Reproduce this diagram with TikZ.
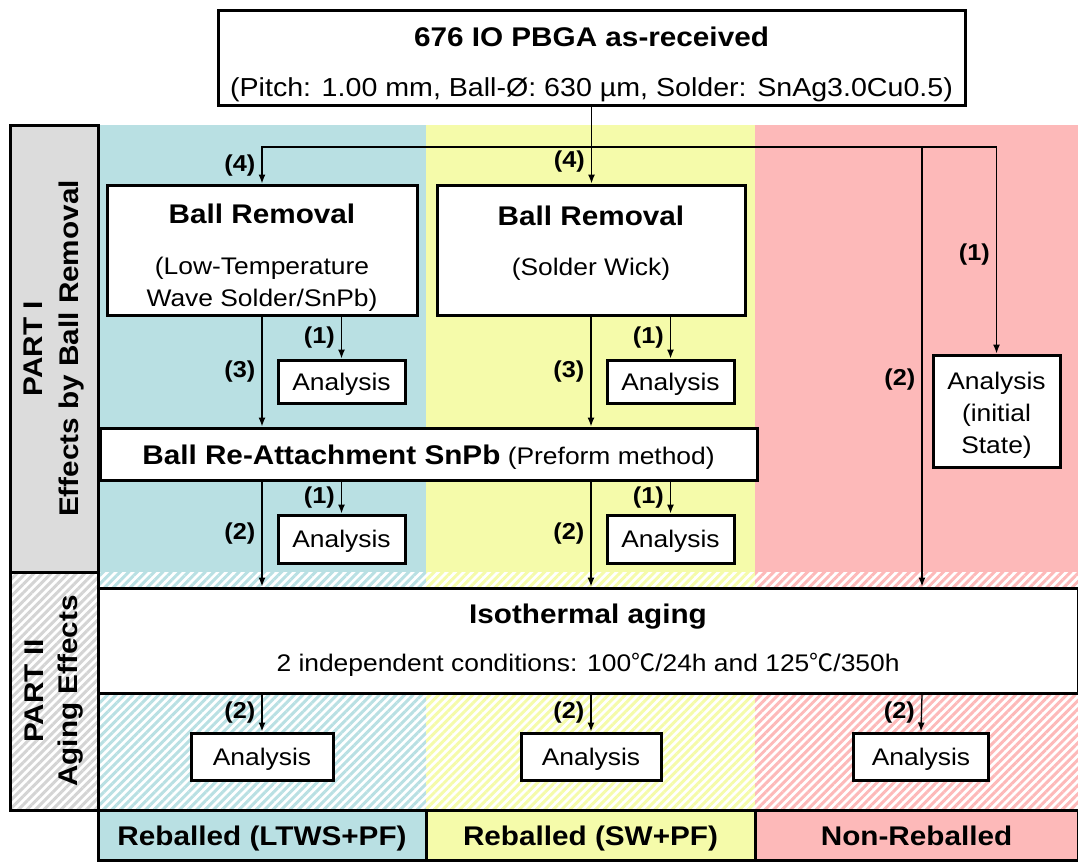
\documentclass[tikz,border=0pt]{standalone}
\usepackage{fontspec}
\setmainfont{Liberation Sans}[FakeStretch=1.1]
\newfontfamily\cjk{Noto Sans CJK SC}
\usepackage{tikz}
\usetikzlibrary{arrows.meta,patterns.meta}

\definecolor{lwcol}{RGB}{185,224,227}
\definecolor{swcol}{RGB}{245,251,170}
\definecolor{nrcol}{RGB}{253,185,185}
\definecolor{partcol}{RGB}{220,220,220}
\definecolor{hatchgray}{RGB}{212,212,212}

\newcommand{\hdfont}{\fontsize{27}{32}\selectfont\bfseries}
\newcommand{\txfont}{\fontsize{24}{32}\selectfont}
\newcommand{\nofont}{\fontsize{23}{28}\selectfont\bfseries}
% a taller first line / a deeper last line moves a text block down / up
\newcommand{\topgap}[1]{\rule{0pt}{#1}}
\newcommand{\botgap}[1]{\rule[-#1]{0pt}{0pt}}

\tikzstyle{box} = [draw, fill=white, line width=3pt, text centered, font=\txfont, inner sep=0pt]
\tikzstyle{anbox} = [box, minimum width=127pt, text height=22pt, text depth=5pt]
\tikzstyle{grpbox} = [box, minimum height=50pt, font=\hdfont, text height=27pt, text depth=6pt]
\tikzstyle{num} = [font=\nofont, left, inner sep=6pt]
\tikzset{
  line/.style ={draw, line width=1.3pt, -{Latex[length=9pt,width=7pt]}, shorten >=0pt},
  hatch/.style={pattern={Lines[angle=45,distance=6pt,line width=3pt]}, pattern color=#1}
}

\begin{document}
\begin{tikzpicture}[x=1pt,y=-1pt]
  \useasboundingbox (0,0) rectangle (1078,862);

  % sample columns
  \fill[lwcol] (98,125) rectangle (426,572);
  \fill[swcol] (426,125) rectangle (755,572);
  \fill[nrcol] (755,125) rectangle (1078,572);
  \path[hatch=lwcol] (98,572) rectangle (426,810);
  \path[hatch=swcol] (426,572) rectangle (755,810);
  \path[hatch=nrcol] (755,572) rectangle (1078,810);

  % part labels
  \node[box, fill=partcol, rotate=90, minimum width=447pt, minimum height=88pt,
        align=center, font=\hdfont] (part1) at (54,348.5) {PART I\\[4pt]Effects by Ball Removal};
  \node[box, hatch=hatchgray, rotate=90, minimum width=238pt, minimum height=88pt,
        align=center, font=\hdfont] (part2) at (54,691) {PART II\\[2pt]Aging Effects};

  \node[box, minimum width=747pt, minimum height=95pt, align=center,
        font=\fontsize{26}{32}\selectfont] (pbga) at (591.5,57.5)
        {\topgap{34pt}{\hdfont 676 IO PBGA as-received}\\[18pt](Pitch: 1.00 mm, Ball-Ø: 630 µm, Solder: SnAg3.0Cu0.5)};

  \node[box, minimum width=310pt, minimum height=130pt, align=center] (brlw) at (262,250)
        {\topgap{35.5pt}{\hdfont Ball Removal}\\[19pt](Low-Temperature\\Wave Solder/SnPb)};
  \node[box, minimum width=308pt, minimum height=130pt, align=center] (brsw) at (591,250)
        {{\hdfont Ball Removal}\\[18pt](Solder Wick)\botgap{19pt}};

  \node[anbox, minimum height=43pt] (anlw1) at (341.5,381.5) {Analysis};
  \node[anbox, minimum height=43pt] (answ1) at (670.5,381.5) {Analysis};
  \node[box, minimum width=127pt, minimum height=112pt, align=center] (aninit) at (996.5,411)
        {\topgap{26.4pt}Analysis\\(initial\\State)};

  \node[box, minimum width=657pt, minimum height=52pt, text height=26pt, text depth=5pt] (reatt) at (428.5,454)
        {{\hdfont Ball Re-Attachment SnPb} (Preform method)};

  \node[anbox, minimum height=48pt] (anlw2) at (341.5,539) {Analysis};
  \node[anbox, minimum height=48pt] (answ2) at (670.5,539) {Analysis};

  \node[box, minimum width=980pt, minimum height=105pt, align=center] (aging) at (588,640.5)
        {{\hdfont Isothermal aging}\\[16pt]2 independent conditions: 100{\cjk ℃}/24h and 125{\cjk ℃}/350h};

  \node[anbox, minimum width=142pt, minimum height=47pt] (anlw3) at (262,756.5) {Analysis};
  \node[anbox, minimum width=140pt, minimum height=47pt] (answ3) at (591,756.5) {Analysis};
  \node[anbox, minimum width=135pt, minimum height=47pt] (annr3) at (921,756.5) {Analysis};

  % sample groups
  \node[grpbox, fill=lwcol, minimum width=328pt] (lwlab) at (262,835) {Reballed (LTWS+PF)};
  \node[grpbox, fill=swcol, minimum width=329pt] (swlab) at (590.5,835) {Reballed (SW+PF)};
  \node[grpbox, fill=nrcol, minimum width=323pt] (nrlab) at (916.5,835) {Non-Reballed};

  % flow
  \coordinate (split) at (pbga.south |- 0,147);
  \coordinate (nrdown) at (922,147);
  \draw[line] (pbga.south) -- node[num, pos=0.72] {(4)} (pbga.south |- brsw.north);
  \draw[line] (split) -| node[num, pos=0.75] {(4)} (brlw.north);
  \draw[line] (split) -| node[num, pos=0.76] {(1)} (aninit.north);
  \draw[line] (nrdown) -- node[num, pos=0.53] {(2)} (nrdown |- aging.north);

  \draw[line] (brlw.south) -- node[num] {(3)} (brlw.south |- reatt.north);
  \draw[line] (anlw1.north |- brlw.south) -- node[num] {(1)} (anlw1.north);
  \draw[line] (brlw.south |- reatt.south) -- node[num] {(2)} (brlw.south |- aging.north);
  \draw[line] (anlw2.north |- reatt.south) -- node[num] {(1)} (anlw2.north);
  \draw[line] (brlw.south |- aging.south) -- node[num] {(2)} (anlw3.north);

  \draw[line] (brsw.south) -- node[num] {(3)} (brsw.south |- reatt.north);
  \draw[line] (answ1.north |- brsw.south) -- node[num] {(1)} (answ1.north);
  \draw[line] (brsw.south |- reatt.south) -- node[num] {(2)} (brsw.south |- aging.north);
  \draw[line] (answ2.north |- reatt.south) -- node[num] {(1)} (answ2.north);
  \draw[line] (brsw.south |- aging.south) -- node[num] {(2)} (answ3.north);

  \draw[line] (nrdown |- aging.south) -- node[num] {(2)} (annr3.north);
\end{tikzpicture}
\end{document}
